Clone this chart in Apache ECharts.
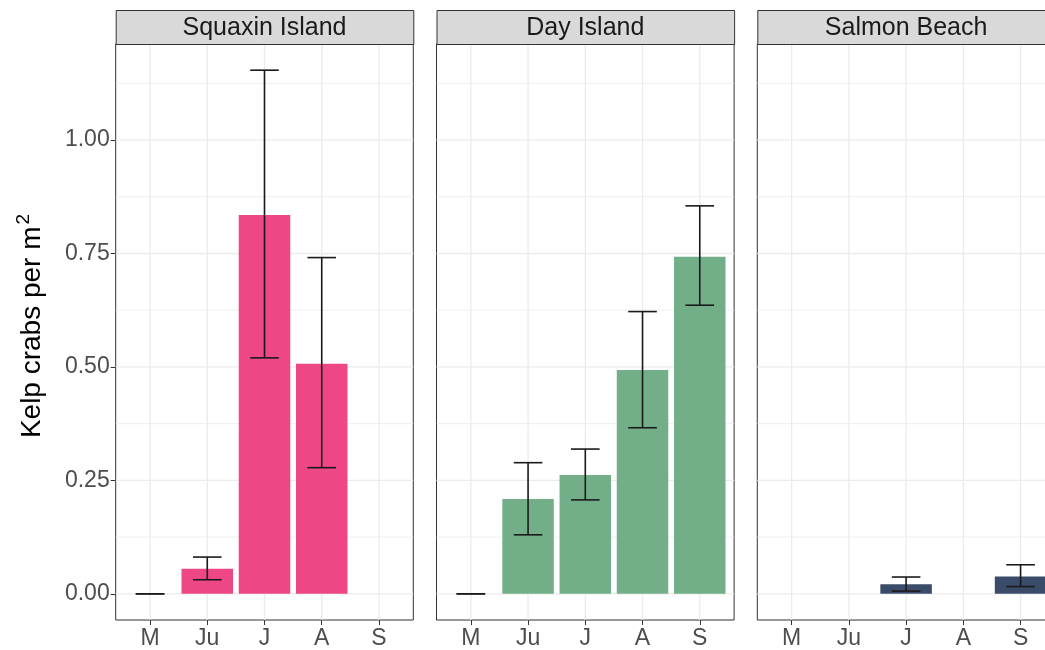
<!DOCTYPE html>
<html>
<head>
<meta charset="utf-8">
<script src="https://cdn.jsdelivr.net/npm/echarts@6/dist/echarts.min.js"></script>
<style>
  html, body { margin: 0; padding: 0; background: #ffffff; overflow: hidden; }
  #chart { width: 1070px; height: 650px; }
</style>
</head>
<body>
<div id="chart"></div>
<script>
// Month categories shown along each facet's x axis
const months = ['M', 'Ju', 'J', 'A', 'S'];
const sites = ['Squaxin Island', 'Day Island', 'Salmon Beach'];

// Mean kelp crab density (per m^2) with lower / upper error limits
const squaxinMean = [0, 0.055, 0.835, 0.507, null];
const squaxinLow  = [0, 0.031, 0.520, 0.278, null];
const squaxinHigh = [0, 0.081, 1.154, 0.741, null];

const dayMean = [0, 0.209, 0.262, 0.493, 0.743];
const dayLow  = [0, 0.130, 0.207, 0.366, 0.636];
const dayHigh = [0, 0.289, 0.319, 0.622, 0.855];

const salmonMean = [null, null, 0.021, null, 0.038];
const salmonLow  = [null, null, 0.006, null, 0.016];
const salmonHigh = [null, null, 0.037, null, 0.064];

// Y tick labels and grid lines
const yMajor = [0, 0.25, 0.5, 0.75, 1.0];
const yMinor = [0.125, 0.375, 0.625, 0.875, 1.125];

const siteColors = ['#EE4785', '#72AF89', '#3B4C6A'];
const means = [squaxinMean, dayMean, salmonMean];
const lows = [squaxinLow, dayLow, salmonLow];
const highs = [squaxinHigh, dayHigh, salmonHigh];

// Shared y scale with 5% padding around the data range
const allHigh = highs.flat().filter(v => v != null);
const yTop = Math.max(...allHigh);
const yPad = 0.05 * yTop;
const yMin = -yPad, yMax = yTop + yPad;
const xMin = -0.6, xMax = months.length - 1 + 0.6;

// Facet geometry
const panelLeft0 = 115.7, panelStep = 320.8, panelW = 297.6;
const panelTop = 44, panelBottom = 620;
const stripTop = 10, stripH = panelTop - stripTop;
const unitPx = panelW / (xMax - xMin);

const FONT = "'Liberation Sans', Arial, Helvetica, sans-serif";

function hLines(values, width) {
  return function (params, api) {
    const cs = params.coordSys;
    const y = api.coord([0, api.value(1)])[1];
    return {
      type: 'line',
      shape: { x1: cs.x, y1: y, x2: cs.x + cs.width, y2: y },
      style: { stroke: '#EBEBEB', lineWidth: width }
    };
  };
}
function vLine(params, api) {
  const cs = params.coordSys;
  const x = api.coord([api.value(0), 0])[0];
  return {
    type: 'line',
    shape: { x1: x, y1: cs.y, x2: x, y2: cs.y + cs.height },
    style: { stroke: '#EBEBEB', lineWidth: 1.3 }
  };
}
function errorBar(params, api) {
  const x = api.value(0);
  const lo = api.coord([x, api.value(1)]);
  const hi = api.coord([x, api.value(2)]);
  const half = api.size([0.5, 0])[0] / 2;
  const st = { stroke: '#1a1a1a', lineWidth: 1.6 };
  return {
    type: 'group',
    children: [
      { type: 'line', shape: { x1: lo[0], y1: lo[1], x2: hi[0], y2: hi[1] }, style: st },
      { type: 'line', shape: { x1: lo[0] - half, y1: lo[1], x2: lo[0] + half, y2: lo[1] }, style: st },
      { type: 'line', shape: { x1: hi[0] - half, y1: hi[1], x2: hi[0] + half, y2: hi[1] }, style: st }
    ]
  };
}

const grids = [], xAxes = [], yAxes = [], series = [], graphics = [];
sites.forEach((site, i) => {
  const left = panelLeft0 + i * panelStep;
  grids.push({
    left: left, top: panelTop, width: panelW, height: panelBottom - panelTop,
    show: true, backgroundColor: '#ffffff', borderColor: '#333333', borderWidth: 1,
    containLabel: false
  });
  xAxes.push({
    type: 'value', gridIndex: i, min: xMin, max: xMax, position: 'bottom',
    axisLine: { show: false, onZero: false },
    splitLine: { show: false },
    axisTick: { show: true, inside: false, customValues: months.map((m, k) => k), length: 5,
                lineStyle: { color: '#333333', width: 1 } },
    axisLabel: { show: true, customValues: months.map((m, k) => k), margin: 7,
                 formatter: v => months[Math.round(v)] ?? '',
                 color: '#4D4D4D', fontSize: 23, fontFamily: FONT }
  });
  yAxes.push({
    type: 'value', gridIndex: i, min: yMin, max: yMax, position: 'left',
    axisLine: { show: false, onZero: false },
    splitLine: { show: false },
    axisTick: { show: i === 0, inside: false, customValues: yMajor, length: 5,
                lineStyle: { color: '#333333', width: 1 } },
    axisLabel: { show: i === 0, customValues: yMajor, margin: 6,
                 formatter: v => v.toFixed(2),
                 color: '#4D4D4D', fontSize: 23, fontFamily: FONT }
  });

  series.push({
    type: 'custom', xAxisIndex: i, yAxisIndex: i, silent: true, z: 0,
    renderItem: hLines(yMinor, 0.8), data: yMinor.map(v => [0, v])
  });
  series.push({
    type: 'custom', xAxisIndex: i, yAxisIndex: i, silent: true, z: 0,
    renderItem: hLines(yMajor, 1.3), data: yMajor.map(v => [0, v])
  });
  series.push({
    type: 'custom', xAxisIndex: i, yAxisIndex: i, silent: true, z: 0,
    renderItem: vLine, data: months.map((m, k) => [k, 0])
  });

  const barData = [];
  const errData = [];
  months.forEach((m, k) => {
    if (means[i][k] != null) barData.push([k, means[i][k]]);
    if (lows[i][k] != null) errData.push([k, lows[i][k], highs[i][k]]);
  });
  series.push({
    type: 'bar', name: site, xAxisIndex: i, yAxisIndex: i, z: 2, silent: true,
    barWidth: 0.9 * unitPx,
    itemStyle: { color: siteColors[i] },
    data: barData
  });
  series.push({
    type: 'custom', xAxisIndex: i, yAxisIndex: i, z: 3, silent: true,
    renderItem: errorBar, encode: { x: 0, y: [1, 2] },
    data: errData
  });

  // Facet strip header
  graphics.push({
    type: 'rect', left: left, top: stripTop, z: 10,
    shape: { width: panelW, height: stripH },
    style: { fill: '#D9D9D9', stroke: '#333333', lineWidth: 1 }
  });
  graphics.push({
    type: 'text', z: 11,
    x: left + panelW / 2, y: stripTop + stripH / 2 + 1,
    style: { text: site, fill: '#1A1A1A', font: '25px ' + FONT,
             align: 'center', verticalAlign: 'middle' }
  });
});

// Y axis title with superscript
graphics.push({
  type: 'text', z: 11,
  x: 32, y: (panelTop + panelBottom) / 2 - 6, rotation: Math.PI / 2,
  style: {
    text: 'Kelp crabs per m{sup|2}',
    fill: '#000000', font: '28px ' + FONT,
    align: 'center', verticalAlign: 'middle',
    rich: { sup: { fontSize: 19, fontFamily: FONT, fill: '#000000', verticalAlign: 'top', padding: [0, 0, 16, 2] } }
  }
});

const chart = echarts.init(document.getElementById('chart'), null, { renderer: 'canvas' });
chart.setOption({
  backgroundColor: '#ffffff',
  animation: false,
  grid: grids,
  xAxis: xAxes,
  yAxis: yAxes,
  series: series,
  graphic: graphics
});
</script>
</body>
</html>
